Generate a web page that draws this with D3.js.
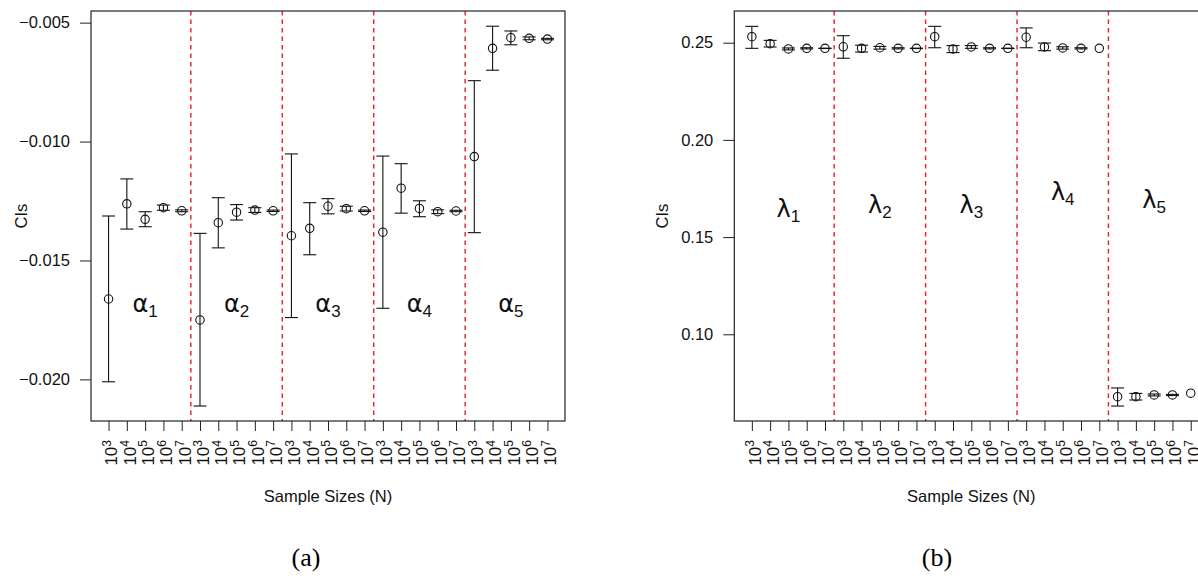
<!DOCTYPE html>
<html>
<head>
<meta charset="utf-8">
<script src="https://cdn.jsdelivr.net/npm/d3@7"></script>
<style>
  body { margin: 0; background: #fff; }
  svg { font-family: "Liberation Sans", Arial, sans-serif; }
</style>
</head>
<body>
<svg id="chart" width="1198" height="576"></svg>
<script>
// Confidence intervals of the estimates per sample size, two panels

// sample sizes 10^3 .. 10^7, repeated for each of the 5 parameters
const exponents = ["3", "4", "5", "6", "7"];
const groupCount = 5;

// panel (a): alpha estimates
const alphaMid = [-0.01662, -0.01262, -0.01327, -0.01278, -0.01291,
                  -0.01750, -0.01341, -0.01297, -0.01288, -0.01291,
                  -0.01396, -0.01365, -0.01272, -0.01282, -0.01291,
                  -0.01381, -0.01196, -0.01281, -0.01295, -0.01292,
                  -0.01063, -0.00608, -0.00563, -0.00566, -0.00569];
const alphaUpper = [-0.01313, -0.01157, -0.01295, -0.01267, -0.01287,
                    -0.01386, -0.01236, -0.01265, -0.01278, -0.01288,
                    -0.01052, -0.01257, -0.01240, -0.01272, -0.01288,
                    -0.01061, -0.01093, -0.01249, -0.01287, -0.01289,
                    -0.00744, -0.00515, -0.00535, -0.00560, -0.00566];
const alphaLower = [-0.02010, -0.01368, -0.01358, -0.01289, -0.01295,
                    -0.02112, -0.01447, -0.01330, -0.01298, -0.01294,
                    -0.01740, -0.01476, -0.01304, -0.01292, -0.01294,
                    -0.01701, -0.01301, -0.01316, -0.01303, -0.01295,
                    -0.01383, -0.00700, -0.00593, -0.00572, -0.00572];
const alphaLabelY = [-0.01717, -0.01717, -0.01717, -0.01717, -0.01717];
const alphaTicks = [-0.020, -0.015, -0.010, -0.005];

// panel (b): lambda estimates
const lambdaMid = [0.2531, 0.2495, 0.2468, 0.2471, 0.2471,
                   0.2479, 0.2471, 0.2474, 0.2471, 0.2471,
                   0.2531, 0.2468, 0.2478, 0.2471, 0.2471,
                   0.2528, 0.2478, 0.2473, 0.2471, 0.2471,
                   0.0679, 0.0679, 0.0688, 0.0688, 0.0697];
const lambdaUpper = [0.2584, 0.2512, 0.2473, 0.2474, 0.2472,
                     0.2536, 0.2487, 0.2481, 0.2474, 0.2472,
                     0.2584, 0.2485, 0.2485, 0.2474, 0.2472,
                     0.2576, 0.2498, 0.2479, 0.2474, 0.2471,
                     0.0724, 0.0696, 0.0693, 0.0691, 0.0697];
const lambdaLower = [0.2471, 0.2478, 0.2463, 0.2468, 0.2470,
                     0.2420, 0.2452, 0.2467, 0.2468, 0.2470,
                     0.2474, 0.2449, 0.2471, 0.2468, 0.2470,
                     0.2474, 0.2459, 0.2467, 0.2468, 0.2471,
                     0.0631, 0.0662, 0.0683, 0.0685, 0.0697];
const lambdaLabelY = [0.1603, 0.1624, 0.1624, 0.1690, 0.1650];
const lambdaTicks = [0.10, 0.15, 0.20, 0.25];

const svg = d3.select('#chart');

const plotTop = 11, plotBottom = 421;
const nPoints = exponents.length * groupCount;
const sansFont = '"Liberation Sans", Arial, sans-serif';

/*
** Render one panel
**   opts.left/right : pixel edges of the plot box
**   opts.yDomain    : data range of the y axis
*/
const renderPanel = (selection, opts) => {

    const g = selection.append('g').attr('class', 'panel');

    // R style axis: 4% padding on each side of 1..n
    const pad = (nPoints - 1) * 0.04;
    const x = d3.scaleLinear()
            .domain([1 - pad, nPoints + pad])
            .range([opts.left, opts.right]);
    const y = d3.scaleLinear()
            .domain(opts.yDomain)
            .range([plotBottom, plotTop]);

    const points = opts.mid.map((m, i) => ({
        idx: i + 1, mid: m, lo: opts.lower[i], hi: opts.upper[i],
        exp: exponents[i % exponents.length]
    }));

    // y axis
    g.append('g')
        .attr('transform', `translate(${opts.left},0)`)
        .call(d3.axisLeft(y).tickValues(opts.yTicks)
                .tickFormat(d3.format(opts.yFormat))
                .tickSizeInner(11).tickSizeOuter(0).tickPadding(10))
        .call(a => a.select('.domain').remove())
        .call(a => a.selectAll('line').attr('stroke', '#222'))
        .call(a => a.selectAll('text')
                .style('font-size', '16.5px')
                .style('font-family', sansFont)
                .attr('fill', '#111'));

    // x axis ticks
    g.append('g')
        .attr('transform', `translate(0,${plotBottom})`)
        .call(d3.axisBottom(x).tickValues(d3.range(1, nPoints + 1))
                .tickFormat(() => '').tickSizeInner(10).tickSizeOuter(0))
        .call(a => a.select('.domain').remove())
        .call(a => a.selectAll('line').attr('stroke', '#222'));

    // x tick labels, 10^k rotated
    const xlab = g.selectAll('.xlab')
        .data(points)
        .enter()
            .append('text')
            .attr('class', 'xlab')
            .attr('transform', d => `translate(${x(d.idx)},440) rotate(-90)`)
            .attr('text-anchor', 'end')
            .attr('dy', '0.52em')
            .attr('fill', '#111')
            .style('font-size', '17px');
    xlab.append('tspan').text('10');
    xlab.append('tspan')
            .style('font-size', '12px')
            .attr('dy', '-0.55em')
            .text(d => d.exp);

    // red dashed separators between parameters
    const seps = d3.range(1, groupCount).map(k => k * exponents.length + 0.5);
    g.selectAll('.sep')
        .data(seps)
        .enter()
            .append('line')
            .attr('class', 'sep')
            .attr('x1', d => x(d)).attr('x2', d => x(d))
            .attr('y1', plotTop).attr('y2', plotBottom)
            .attr('stroke', '#ee1c25')
            .attr('stroke-width', 1.4)
            .style('stroke-dasharray', '4.5,4');

    // error bars
    const capW = 6.5;
    const bars = g.selectAll('.ci')
        .data(points.filter(d => d.hi !== d.lo))
        .enter()
            .append('g')
            .attr('class', 'ci')
            .attr('stroke', '#111')
            .attr('stroke-width', 1.1);
    bars.append('line')
            .attr('x1', d => x(d.idx)).attr('x2', d => x(d.idx))
            .attr('y1', d => y(d.lo)).attr('y2', d => y(d.hi));
    bars.append('line')
            .attr('x1', d => x(d.idx) - capW).attr('x2', d => x(d.idx) + capW)
            .attr('y1', d => y(d.hi)).attr('y2', d => y(d.hi));
    bars.append('line')
            .attr('x1', d => x(d.idx) - capW).attr('x2', d => x(d.idx) + capW)
            .attr('y1', d => y(d.lo)).attr('y2', d => y(d.lo));

    // point estimates, open circles
    g.selectAll('.pt')
        .data(points)
        .enter()
            .append('circle')
            .attr('class', 'pt')
            .attr('cx', d => x(d.idx))
            .attr('cy', d => y(d.mid))
            .attr('r', 4.2)
            .attr('fill', 'none')
            .attr('stroke', '#111')
            .attr('stroke-width', 1.1);

    // greek parameter labels
    const glab = g.selectAll('.glab')
        .data(opts.labelY)
        .enter()
            .append('text')
            .attr('class', 'glab')
            .attr('x', (d, i) => x(i * exponents.length + 3))
            .attr('y', d => y(d))
            .attr('text-anchor', 'middle')
            .attr('fill', '#111')
            .style('font-family', '"DejaVu Sans", sans-serif')
            .style('font-size', '24px');
    glab.append('tspan').text(opts.letter);
    glab.append('tspan')
            .style('font-family', sansFont)
            .style('font-size', '17px')
            .attr('dy', '0.3em')
            .text((d, i) => i + 1);

    // plot box
    g.append('rect')
        .attr('x', opts.left).attr('y', plotTop)
        .attr('width', opts.right - opts.left)
        .attr('height', plotBottom - plotTop)
        .attr('fill', 'none')
        .attr('stroke', '#222')
        .attr('stroke-width', 1.2);

    // axis titles
    g.append('text')
        .attr('transform', `translate(${opts.ylabX},${(plotTop + plotBottom) / 2}) rotate(-90)`)
        .attr('text-anchor', 'middle')
        .attr('fill', '#111')
        .style('font-size', '16.5px')
        .text('CIs');
    g.append('text')
        .attr('x', (opts.left + opts.right) / 2)
        .attr('y', 502)
        .attr('text-anchor', 'middle')
        .attr('fill', '#111')
        .style('font-size', '16.5px')
        .text('Sample Sizes (N)');

    // caption
    g.append('text')
        .attr('x', opts.captionX)
        .attr('y', 566)
        .attr('text-anchor', 'middle')
        .attr('fill', '#000')
        .style('font-family', '"Liberation Serif", "DejaVu Serif", serif')
        .style('font-size', '26px')
        .text(opts.caption);
};

renderPanel(svg, {
    left: 91, right: 565, yDomain: [-0.02175, -0.00451],
    yTicks: alphaTicks, yFormat: '.3f',
    mid: alphaMid, lower: alphaLower, upper: alphaUpper,
    letter: 'α', labelY: alphaLabelY, ylabX: 27,
    caption: '(a)', captionX: 306
});

renderPanel(svg, {
    left: 734.3, right: 1208.3, yDomain: [0.0554, 0.2663],
    yTicks: lambdaTicks, yFormat: '.2f',
    mid: lambdaMid, lower: lambdaLower, upper: lambdaUpper,
    letter: 'λ', labelY: lambdaLabelY, ylabX: 668,
    caption: '(b)', captionX: 937
});
</script>
</body>
</html>
